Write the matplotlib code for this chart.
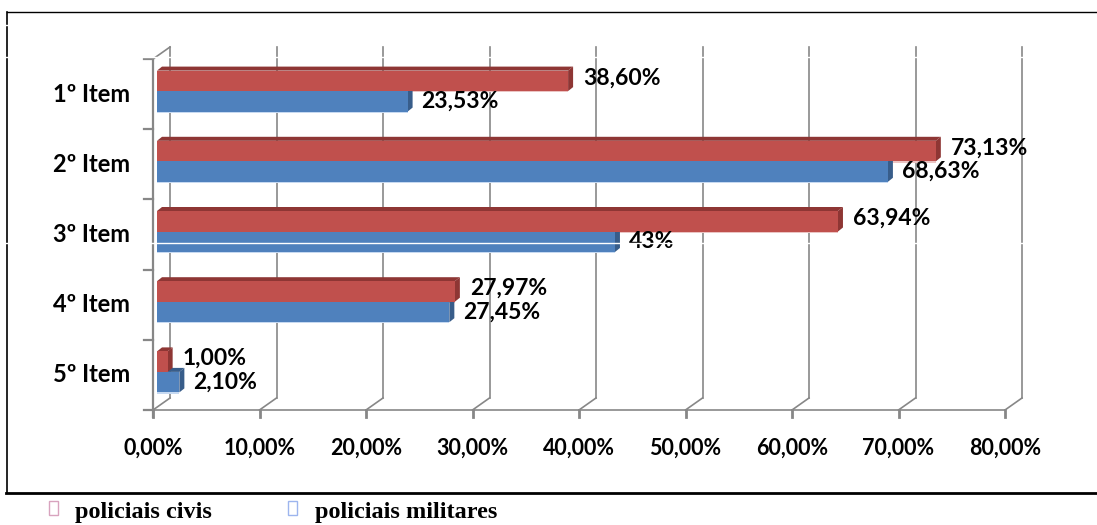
import numpy as np
import matplotlib.pyplot as plt
from matplotlib.patches import Polygon, Rectangle
from matplotlib.lines import Line2D

itens = ['1º Item', '2º Item', '3º Item', '4º Item', '5º Item']
civis = [38.60, 73.13, 63.94, 27.97, 1.00]
militares = [23.53, 68.63, 43.0, 27.45, 2.10]
rot_civis = ['38,60%', '73,13%', '63,94%', '27,97%', '1,00%']
rot_militares = ['23,53%', '68,63%', '43%', '27,45%', '2,10%']
ticks = np.arange(0, 81, 10)
tick_labels = [f'{t:.2f}%'.replace('.', ',') for t in ticks]

W, H = 1097, 525
fig = plt.figure(figsize=(W / 100, H / 100), dpi=100)
fig.patch.set_facecolor('white')

# plano das barras: 0% em x=157px, 80% em x=1009px; categorias entre y=56px e y=407px
ax = fig.add_axes([157 / W, (H - 407) / H, 852 / W, 351 / H])
ax.set_xlim(0, 80)
ax.set_ylim(4.5, -0.5)
ax.axis('off')

# conversao pixel -> unidades de dados (para o efeito 3D)
px = 80 / 852
py = 5 / 351
fx, fy = -4 * px, 3 * py      # parede da frente
bx, by = 13 * px, -9 * py     # parede do fundo
dx, dy = 5 * px, -4 * py      # profundidade das barras

grade = '#878787'
ytop, ybot = -0.5, 4.5

# linhas de grade no fundo + diagonais ate o piso
for t in ticks:
    ax.plot([t + bx, t + bx], [ytop + by, ybot + by], color=grade, lw=1.2, clip_on=False, zorder=1)
    ax.plot([t + bx, t + fx], [ybot + by, ybot + fy], color=grade, lw=1.2, clip_on=False, zorder=1)
    ax.plot([t + fx, t + fx], [ybot + fy, ybot + fy + 7 * py], color=grade, lw=2.0, clip_on=False, zorder=1)
ax.plot([bx, fx], [ytop + by, ytop + fy], color=grade, lw=1.2, clip_on=False, zorder=1)

# parede esquerda e piso
ax.plot([fx, fx], [ytop + fy, ybot + fy + 7 * py], color=grade, lw=1.6, clip_on=False, zorder=1)
for b in np.arange(-0.5, 4.6, 1.0):
    ax.plot([fx - 9 * px, fx], [b + fy, b + fy], color=grade, lw=1.6, clip_on=False, zorder=1)
ax.plot([fx - 9 * px, 80 + fx], [ybot + fy, ybot + fy], color=grade, lw=1.2, clip_on=False, zorder=1)

h = 0.292
y = np.arange(len(itens))
y_civ = y - h / 2
y_mil = y + h / 2

cores = {
    'civ': ('#C0504D', '#8E3634', '#EBC4C3'),
    'mil': ('#4F81BD', '#385D8A', '#C6D9F1'),
}


def faces(vals, yc, chave):
    frente, escura, clara = cores[chave]
    # reflexo claro sob a barra
    ax.barh(yc + h / 2 + 0.5 * py, vals, height=1.6 * py, color=clara, zorder=2)
    for v, c in zip(vals, yc):
        y0, y1 = c - h / 2, c + h / 2
        topo = [(0, y0), (v, y0), (v + dx, y0 + dy), (dx, y0 + dy)]
        lado = [(v, y0), (v + dx, y0 + dy), (v + dx, y1 + dy), (v, y1)]
        ax.add_patch(Polygon(topo, closed=True, color=escura, lw=0, zorder=3))
        ax.add_patch(Polygon(lado, closed=True, color=escura, lw=0, zorder=3))
    ax.barh(yc, vals, height=h, color=frente, zorder=3)


faces(militares, y_mil, 'mil')
faces(civis, y_civ, 'civ')

fam = ['Lato', 'DejaVu Sans']
fonte = dict(family=fam, fontweight='bold', fontsize=16.5, color='black')

for v, c, r in zip(civis, y_civ, rot_civis):
    ax.text(v + 15 * px, c - 3 * py, r, ha='left', va='center', zorder=5, **fonte)
for v, c, r in zip(militares, y_mil, rot_militares):
    ax.text(v + 14 * px, c, r, ha='left', va='center', zorder=5, **fonte)

for k, nome in zip(y, itens):
    ax.text(fx - 23 * px, k + fy, nome, ha='right', va='center',
            family=fam, fontweight='bold', fontsize=17, color='black')

for t, r in zip(ticks, tick_labels):
    ax.text(t + fx, ybot + fy + 38 * py, r, ha='center', va='center',
            family=fam, fontweight='bold', fontsize=15.5, color='black')

# moldura
def linha(x0, y0, x1, y1, lw, cor='black'):
    fig.add_artist(Line2D([x0 / W, x1 / W], [1 - y0 / H, 1 - y1 / H],
                          transform=fig.transFigure, color=cor, lw=lw, zorder=10))

linha(7, 12, W, 12, 1.0)
linha(7, 12, 7, 493, 1.2)
linha(6, 493, W, 493, 2.0)

# legenda
leg = dict(family=['Liberation Serif', 'DejaVu Serif'], fontweight='bold', fontsize=17.5, color='black')
fig.add_artist(Rectangle((49 / W, 1 - 515 / H), 9 / W, 14 / H, transform=fig.transFigure,
                         fill=False, edgecolor='#D8A3BE', lw=1.0))
fig.text(75 / W, 1 - 518 / H, 'policiais civis', ha='left', va='baseline', **leg)
fig.add_artist(Rectangle((288 / W, 1 - 515 / H), 9 / W, 14 / H, transform=fig.transFigure,
                         fill=False, edgecolor='#9DB5EE', lw=1.0))
fig.text(315 / W, 1 - 518 / H, 'policiais militares', ha='left', va='baseline', **leg)

# falhas brancas horizontais da digitalizacao
for yy in (25, 57, 243):
    linha(0, yy, W, yy, 1.0, cor='white')

fig.savefig('out.png', dpi=100)
